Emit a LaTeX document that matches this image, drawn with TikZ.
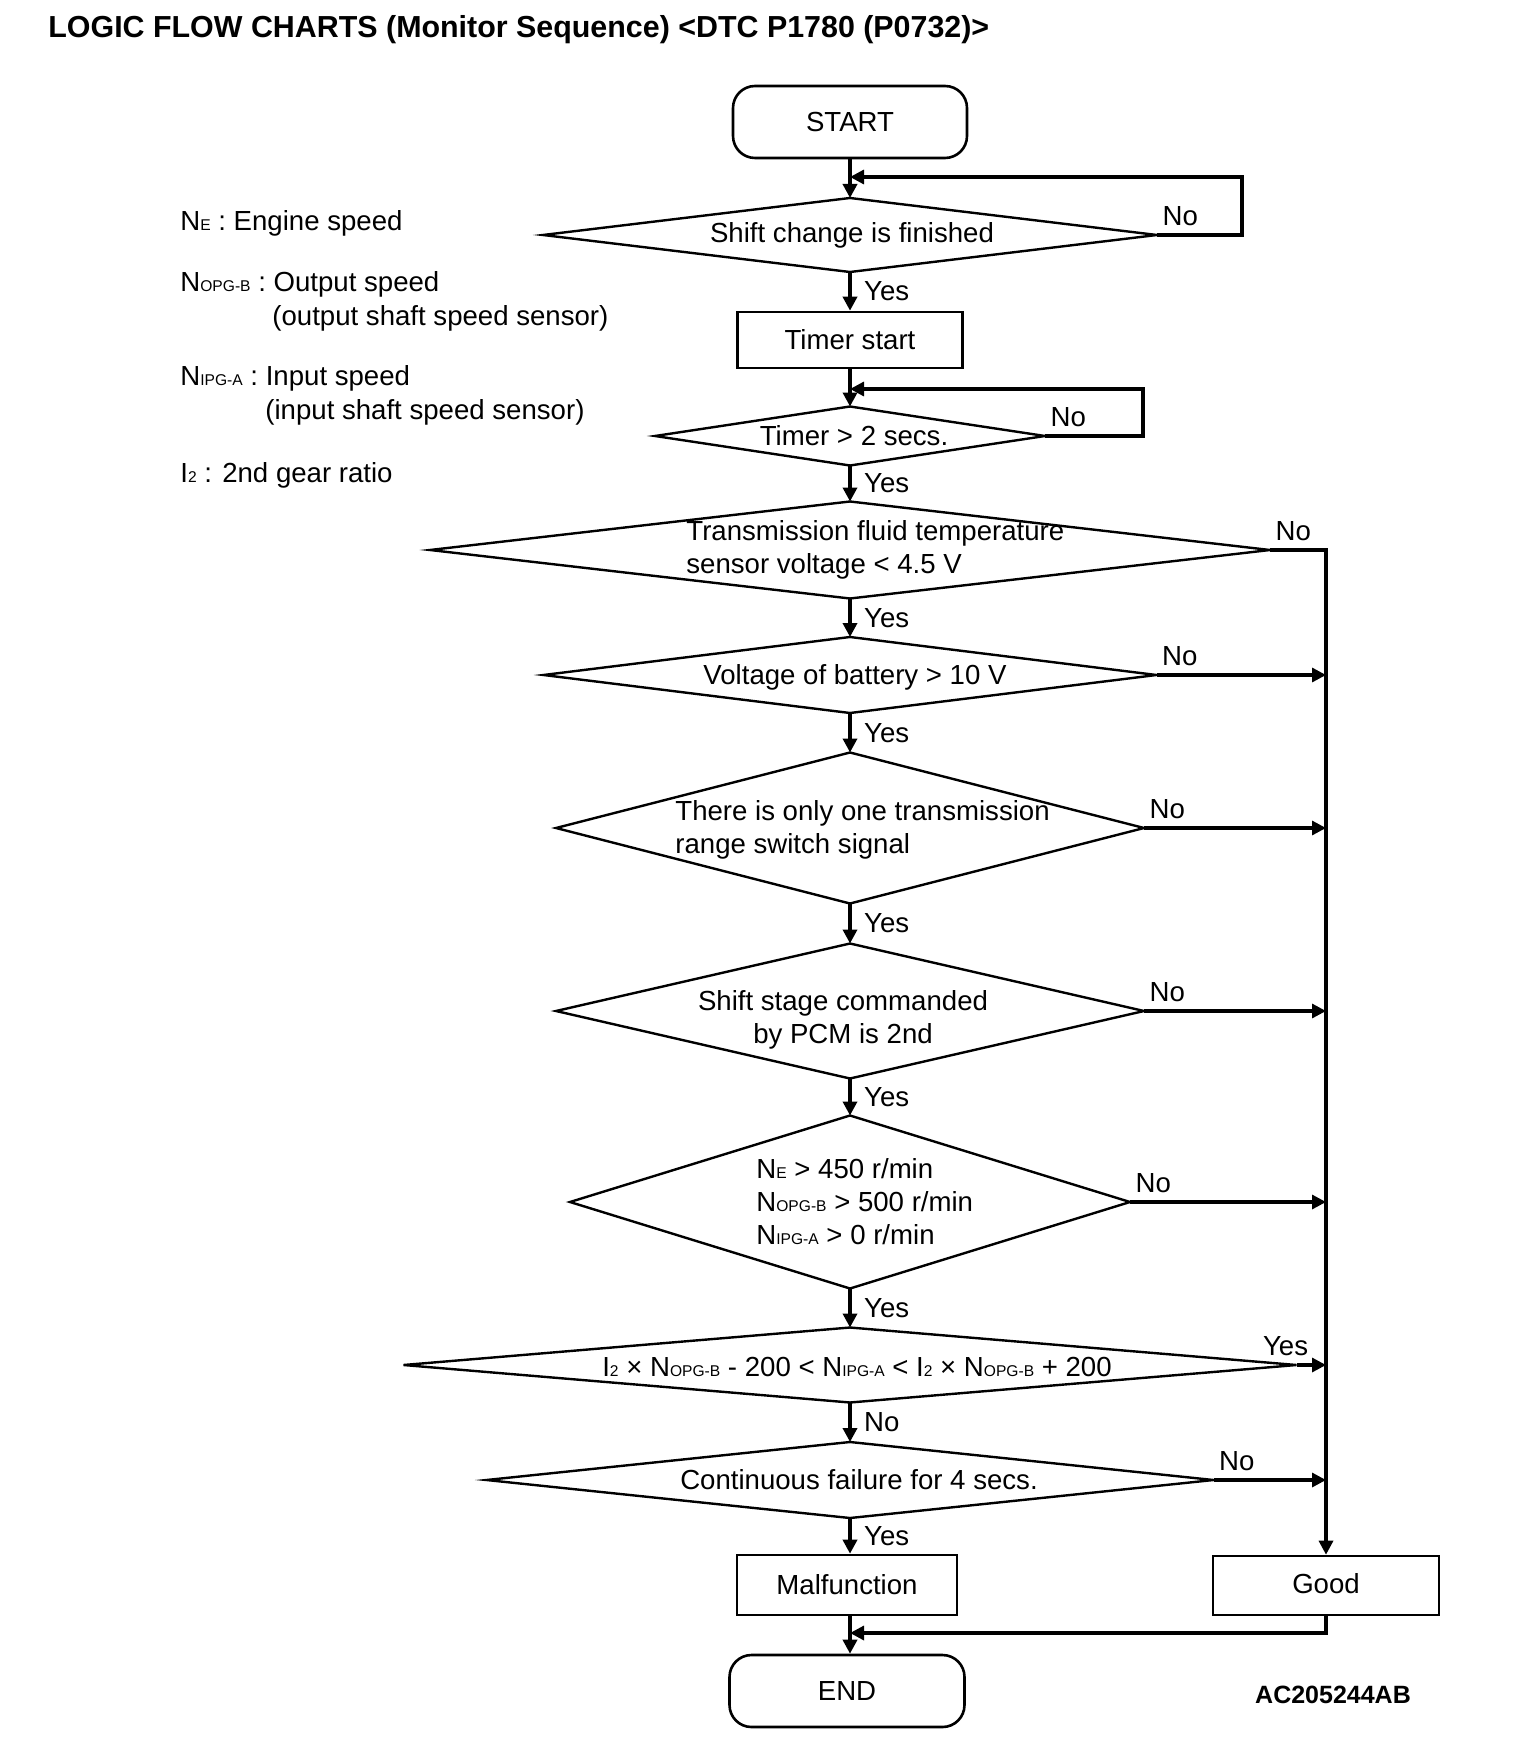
\documentclass[tikz,border=0pt]{standalone}
\usepackage{fontspec}
\setmainfont{Liberation Sans}
\usetikzlibrary{arrows.meta, shapes.geometric, calc, positioning}
\tikzset{
    termBox/.style={rectangle, draw, rounded corners=11pt, line width=1.3pt, inner sep=0pt, minimum width=117pt, minimum height=36pt},
    procBox/.style={rectangle, draw, line width=1.3pt, inner sep=0pt},
    decision/.style={diamond, draw, line width=1.2pt, inner sep=0pt, outer sep=0pt},
    flowEdge/.style={->, line width=2.2pt},
    sideEdge/.style={->, line width=1.6pt},
    yesLbl/.style={right, xshift=6pt, inner sep=0pt},
    noLbl/.style={anchor=south west, xshift=2pt, yshift=4pt, inner sep=0pt},
    legendTxt/.style={anchor=base west, inner sep=0pt},
    condTxt/.style={inner sep=0pt},
}
\newcommand{\mainSize}{\fontsize{13.8pt}{16.5pt}\selectfont}
\newcommand{\lowIdx}[1]{{\fontsize{7.8pt}{7.8pt}\selectfont #1}}
\newcommand{\nE}{N\lowIdx{E}}
\newcommand{\nOpg}{N\lowIdx{OPG-B}}
\newcommand{\nIpg}{N\lowIdx{IPG-A}}
\newcommand{\iTwo}{I\lowIdx{2}}

\begin{document}
\begin{tikzpicture}[x=0.5pt, y=-0.5pt, >={Triangle[length=7pt, width=7pt]}, font=\mainSize]
    \useasboundingbox (0,0) rectangle (1536,1754);

    % title
    \node[anchor=base west, inner sep=0pt, font=\bfseries\fontsize{15.2pt}{18pt}\selectfont] (title) at (48,38) {LOGIC FLOW CHARTS (Monitor Sequence) <DTC P1780 (P0732)>};

    % legend
    \node[legendTxt] (legE) at (180,231) {\nE{} : Engine speed};
    \node[legendTxt] (legOpg) at (180,292) {\nOpg{} : Output speed};
    \node[legendTxt] (legOpgB) at (272,326) {(output shaft speed sensor)};
    \node[legendTxt] (legIpg) at (180,386) {\nIpg{} : Input speed};
    \node[legendTxt] (legIpgB) at (265,420) {(input shaft speed sensor)};
    \node[legendTxt] (legI) at (180,482) {\iTwo{} : 2nd gear ratio};

    % 1. Start and timer
    \node[termBox] (start) at (850,122) {START};
    \node[decision, minimum width=307pt, minimum height=37pt] (d1) at (850,235) {};
    \node[condTxt] (t1) at (852,235) {Shift change is finished};
    \node[procBox, minimum width=112.5pt, minimum height=28pt] (timer) at (850,340) {Timer start};
    \node[decision, minimum width=195pt, minimum height=29.5pt] (d2) at (850,436) {};
    \node[condTxt] (t2) at (854,436) {Timer > 2 secs.};

    % 2. Conditions
    \node[decision, minimum width=420pt, minimum height=48.5pt] (d3) at (850,550) {};
    \node[condTxt, anchor=west, align=left] (t3) at (686,550) {Transmission fluid temperature\\sensor voltage < 4.5 V};
    \node[decision, minimum width=306.5pt, minimum height=38pt] (d4) at (850,675) {};
    \node[condTxt] (t4) at (855,677) {Voltage of battery > 10 V};
    \node[decision, minimum width=294pt, minimum height=75.5pt] (d5) at (850,828) {};
    \node[condTxt, anchor=west, align=left] (t5) at (675,830) {There is only one transmission\\range switch signal};
    \node[decision, minimum width=294pt, minimum height=67.5pt] (d6) at (850,1011) {};
    \node[condTxt, align=center] (t6) at (843,1020) {Shift stage commanded\\by PCM is 2nd};
    \node[decision, minimum width=280pt, minimum height=86.5pt] (d7) at (850,1202) {};
    \node[condTxt, anchor=west, align=left] (t7) at (756,1202) {\nE{} > 450 r/min\\\nOpg{} > 500 r/min\\\nIpg{} > 0 r/min};

    % 3. Judgement
    \node[decision, minimum width=446.5pt, minimum height=37.5pt] (d8) at (850,1365) {};
    \node[condTxt] (t8) at (857,1367) {\iTwo{} × \nOpg{} - 200 < \nIpg{} < \iTwo{} × \nOpg{} + 200};
    \node[decision, minimum width=363.5pt, minimum height=38pt] (d9) at (850,1480) {};
    \node[condTxt] (t9) at (859,1480) {Continuous failure for 4 secs.};

    % 4. Results
    \node[procBox, minimum width=110pt, minimum height=30pt] (mal) at (847,1585) {Malfunction};
    \node[procBox, minimum width=113pt, minimum height=29.5pt] (good) at (1326,1585.5) {\raisebox{2pt}{Good}};
    \node[termBox, minimum width=117.5pt] (finish) at (847,1691) {END};
    \node[inner sep=0pt, font=\bfseries\fontsize{12.5pt}{15pt}\selectfont] (figId) at (1333,1695) {AC205244AB};

    \coordinate (loopA) at (1242,177);
    \coordinate (loopB) at (1143,389);
    \coordinate (joinEnd) at (850,1633);

    % main flow
    \draw[flowEdge] (start) -- (d1);
    \draw[flowEdge] (d1) -- node[yesLbl] {Yes} (timer);
    \draw[flowEdge] (timer) -- (d2);
    \draw[flowEdge] (d2) -- node[yesLbl] {Yes} (d3);
    \draw[flowEdge] (d3) -- node[yesLbl] {Yes} (d4);
    \draw[flowEdge] (d4) -- node[yesLbl] {Yes} (d5);
    \draw[flowEdge] (d5) -- node[yesLbl] {Yes} (d6);
    \draw[flowEdge] (d6) -- node[yesLbl] {Yes} (d7);
    \draw[flowEdge] (d7) -- node[yesLbl] {Yes} (d8);
    \draw[flowEdge] (d8) -- node[yesLbl] {No} (d9);
    \draw[flowEdge] (d9.south) -- node[yesLbl] {Yes} (d9.south |- mal.north);
    \draw[flowEdge] (joinEnd |- mal.south) -- (joinEnd |- finish.north);

    % loops back
    \draw[sideEdge] (d1.east) node[noLbl] {No} -| (loopA) -- (loopA -| d1.north);
    \draw[sideEdge] (d2.east) node[noLbl] {No} -| (loopB) -- (loopB -| d2.north);

    % branches to Good
    \draw[sideEdge] (d3.east) node[noLbl] {No} -| (good.north);
    \foreach \d in {d4,d5,d6,d7,d9} {
        \draw[sideEdge] (\d.east) node[noLbl] {No} -- (\d.east -| good.north);
    }
    \draw[sideEdge] (d8.east) node[anchor=south, xshift=-5.5pt, yshift=4pt, inner sep=0pt] {Yes} -- (d8.east -| good.north);
    \draw[sideEdge] (good.south) |- (joinEnd);

\end{tikzpicture}
\end{document}
